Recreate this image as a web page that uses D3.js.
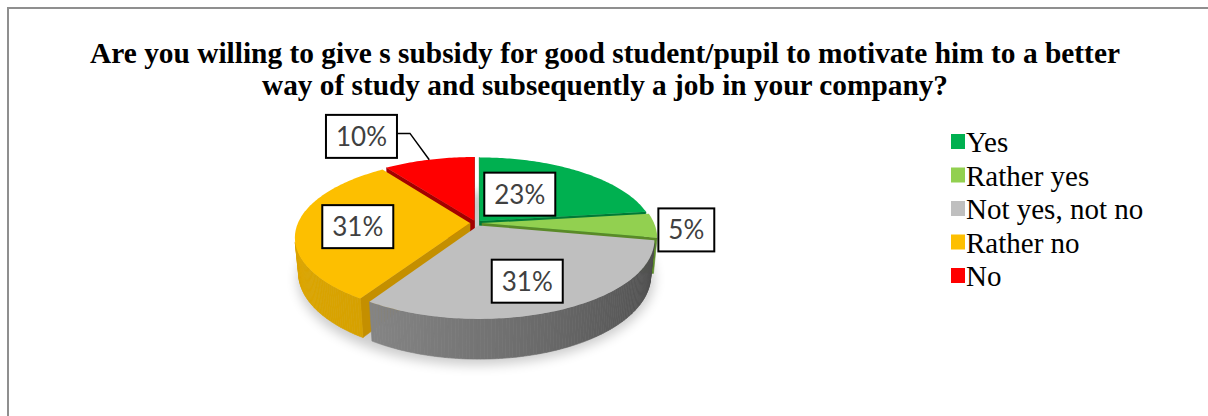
<!DOCTYPE html>
<html>
<head>
<meta charset="utf-8">
<script src="https://cdn.jsdelivr.net/npm/d3@7"></script>
<style>
  html, body { margin: 0; padding: 0; background: #fff; }
  svg { display: block; }
</style>
</head>
<body>
<svg id="chart" width="1208" height="416"></svg>
<script>
// ---- data ----
const categories = ["Yes", "Rather yes", "Not yes, not no", "Rather no", "No"];
const shares = [23, 5, 31, 31, 10];
const valueLabels = ["23%", "5%", "31%", "31%", "10%"];
const titleLines = [
  "Are you willing to give s subsidy for good student/pupil to motivate him to a better",
  "way of study and subsequently a job in your company?"
];

// ---- styles ----
const titleWidths = [1030, 686];
const topColors  = ["#00b050", "#92d050", "#bfbfbf", "#fdbf00", "#ff0000"];
const sideLight  = ["#009a45", "#7db83f", "#8e8e8e", "#dba500", "#d40000"];
const sideDark   = ["#006b30", "#4f7a22", "#4a4a4a", "#b58700", "#a00000"];
const wallColors = ["#007a36", "#5a8a28", "#9a9a9a", "#c48f00", "#a30000"];
// label placement: radial position (fraction of radius) and small pixel nudge
const labelRadius = [0.45, 1.18, 0.69, 0.65, 1.35];
const labelNudge  = [[-8, -3], [0, 4], [-5, 1], [0, 2], [-55, -6]];
const leaderLine  = [false, false, false, false, true];

const svg = d3.select("#chart");
const W = 1208, H = 416;

svg.append("rect").attr("width", W).attr("height", H).attr("fill", "#fff");
// chart frame (continues past the right and bottom edges)
svg.append("rect")
  .attr("x", 8).attr("y", 8).attr("width", 1400).attr("height", 600)
  .attr("fill", "none").attr("stroke", "#8f8f8f").attr("stroke-width", 2);

// ---- title ----
const titleY = d3.scalePoint().domain(d3.range(titleLines.length)).range([63, 95]);
svg.append("g").selectAll("text").data(titleLines).join("text")
  .attr("x", 605).attr("y", (d, i) => titleY(i))
  .attr("text-anchor", "middle")
  .attr("font-family", "'Liberation Serif', 'Times New Roman', serif")
  .attr("font-weight", "bold").attr("font-size", 28.5)
  .attr("textLength", (d, i) => titleWidths[i])
  .attr("lengthAdjust", "spacingAndGlyphs")
  .attr("fill", "#000")
  .text(d => d);

// ---- 3D pie projection ----
const V = { cx: 476, cy: 223, F: 860, D: 5, sinA: 0.44, T: 0.23, explode: 0.035 };
V.cosA = Math.sqrt(1 - V.sinA * V.sinA);
const cam = [0, -V.D * V.cosA, V.D * V.sinA];

function project(u, v, h) {
  const yc = v * V.sinA + h * V.cosA;
  const zc = V.D + v * V.cosA - h * V.sinA;
  return [V.cx + V.F * u / zc, V.cy - V.F * yc / zc, zc];
}
function facesCamera(n, p) {
  return n[0] * (cam[0] - p[0]) + n[1] * (cam[1] - p[1]) + n[2] * (cam[2] - p[2]) > 0;
}
const line = d3.line();
const poly = pts => line(pts.map(p => [p[0], p[1]])) + "Z";

const arcs = d3.pie().sort(null).value(d => d).startAngle(0).endAngle(2 * Math.PI)(shares);

const slices = arcs.map((a, i) => {
  const m = (a.startAngle + a.endAngle) / 2;
  const ou = V.explode * Math.sin(m), ov = V.explode * Math.cos(m);
  const depth = project(ou + 0.5 * Math.sin(m), ov + 0.5 * Math.cos(m), 0)[2];
  return { a, i, m, ou, ov, depth };
});

// soft shadow beneath the pie
const defs = svg.append("defs");
defs.append("filter").attr("id", "soft").attr("x", "-20%").attr("y", "-20%")
  .attr("width", "140%").attr("height", "140%")
  .append("feGaussianBlur").attr("stdDeviation", 6);
const shadowPts = d3.range(0, 361, 3).map(t => {
  const r = t * Math.PI / 180;
  return project(1.04 * Math.sin(r), 1.04 * Math.cos(r), -V.T);
});
svg.append("path").attr("d", poly(shadowPts))
  .attr("transform", "translate(0,5)")
  .attr("fill", "#000").attr("opacity", 0.2).attr("filter", "url(#soft)");

const pieG = svg.append("g");
const L = (() => { const x = -1, y = -0.25, n = Math.hypot(x, y); return [x / n, y / n]; })();

slices.slice().sort((p, q) => q.depth - p.depth).forEach(s => {
  const g = pieG.append("g");
  const { a, i, ou, ov } = s;
  const a0 = a.startAngle, a1 = a.endAngle;
  const steps = Math.max(2, Math.ceil((a1 - a0) / (Math.PI / 180)));
  const ts = d3.range(steps + 1).map(k => a0 + (a1 - a0) * k / steps);
  const rim = (t, h) => project(ou + Math.sin(t), ov + Math.cos(t), h);
  const apex = h => project(ou, ov, h);

  const faces = [];
  // radial walls
  [[a0, [-Math.cos(a0), Math.sin(a0), 0]], [a1, [Math.cos(a1), -Math.sin(a1), 0]]].forEach(([t, n]) => {
    const mid = [ou + 0.5 * Math.sin(t), ov + 0.5 * Math.cos(t), -V.T / 2];
    if (facesCamera(n, mid)) {
      faces.push({
        pts: [apex(0), rim(t, 0), rim(t, -V.T), apex(-V.T)],
        fill: wallColors[i],
        z: project(mid[0], mid[1], mid[2])[2]
      });
    }
  });
  // outer curved wall
  const shade = d3.interpolateRgb(sideLight[i], sideDark[i]);
  for (let k = 0; k < steps; k++) {
    const t0 = ts[k], t1 = ts[k + 1], tm = (t0 + t1) / 2;
    const n = [Math.sin(tm), Math.cos(tm), 0];
    const mid = [ou + n[0], ov + n[1], -V.T / 2];
    if (!facesCamera(n, mid)) continue;
    const tt = (1 - (n[0] * L[0] + n[1] * L[1])) / 2;
    faces.push({
      pts: [rim(t0, 0), rim(t1, 0), rim(t1, -V.T), rim(t0, -V.T)],
      fill: shade(Math.min(1, Math.max(0, tt))),
      z: project(mid[0], mid[1], mid[2])[2]
    });
  }
  faces.sort((p, q) => q.z - p.z).forEach(f => {
    g.append("path").attr("d", poly(f.pts))
      .attr("fill", f.fill).attr("stroke", f.fill).attr("stroke-width", 0.6)
      .attr("stroke-linejoin", "round");
  });
  // top face
  const topPts = [apex(0)].concat(ts.map(t => rim(t, 0)));
  g.append("path").attr("d", poly(topPts)).attr("fill", topColors[i]);
});

// ---- data labels ----
const labelG = svg.append("g");
slices.forEach(s => {
  const { i, m, ou, ov } = s;
  const rho = labelRadius[i];
  const p = project(ou + rho * Math.sin(m), ov + rho * Math.cos(m), 0);
  const cx = p[0] + labelNudge[i][0], cy = p[1] + labelNudge[i][1];
  const g = labelG.append("g");
  const txt = g.append("text")
    .attr("x", cx).attr("y", cy).attr("dy", "0.36em")
    .attr("text-anchor", "middle")
    .attr("font-family", "Lato, 'Open Sans', sans-serif")
    .attr("font-size", 26).attr("fill", "#404040")
    .text(valueLabels[i]);
  const w = txt.node().getComputedTextLength() + 20, h = 43;
  g.insert("rect", "text")
    .attr("x", cx - w / 2).attr("y", cy - h / 2)
    .attr("width", w).attr("height", h)
    .attr("fill", "#fff").attr("stroke", "#000").attr("stroke-width", 2);
  if (leaderLine[i]) {
    const end = project(ou + Math.sin(m), ov + Math.cos(m), 0);
    const sx = cx + w / 2, sy = cy - 3;
    labelG.insert("path", ":first-child")
      .attr("d", d3.line()([[sx, sy], [sx + 13, sy], [end[0], end[1]]]))
      .attr("fill", "none").attr("stroke", "#000").attr("stroke-width", 1.5);
  }
});

// ---- legend ----
const legendY = d3.scalePoint().domain(categories).range([152, 286]);
const legend = svg.append("g");
const items = legend.selectAll("g").data(categories).join("g")
  .attr("transform", d => `translate(0,${legendY(d)})`);
items.append("rect")
  .attr("x", 951).attr("y", -18).attr("width", 14).attr("height", 15)
  .attr("fill", (d, i) => topColors[i]);
items.append("text")
  .attr("x", 966).attr("y", 0)
  .attr("font-family", "'Liberation Serif', 'Times New Roman', serif")
  .attr("font-size", 29).attr("fill", "#000")
  .text(d => d);
</script>
</body>
</html>
